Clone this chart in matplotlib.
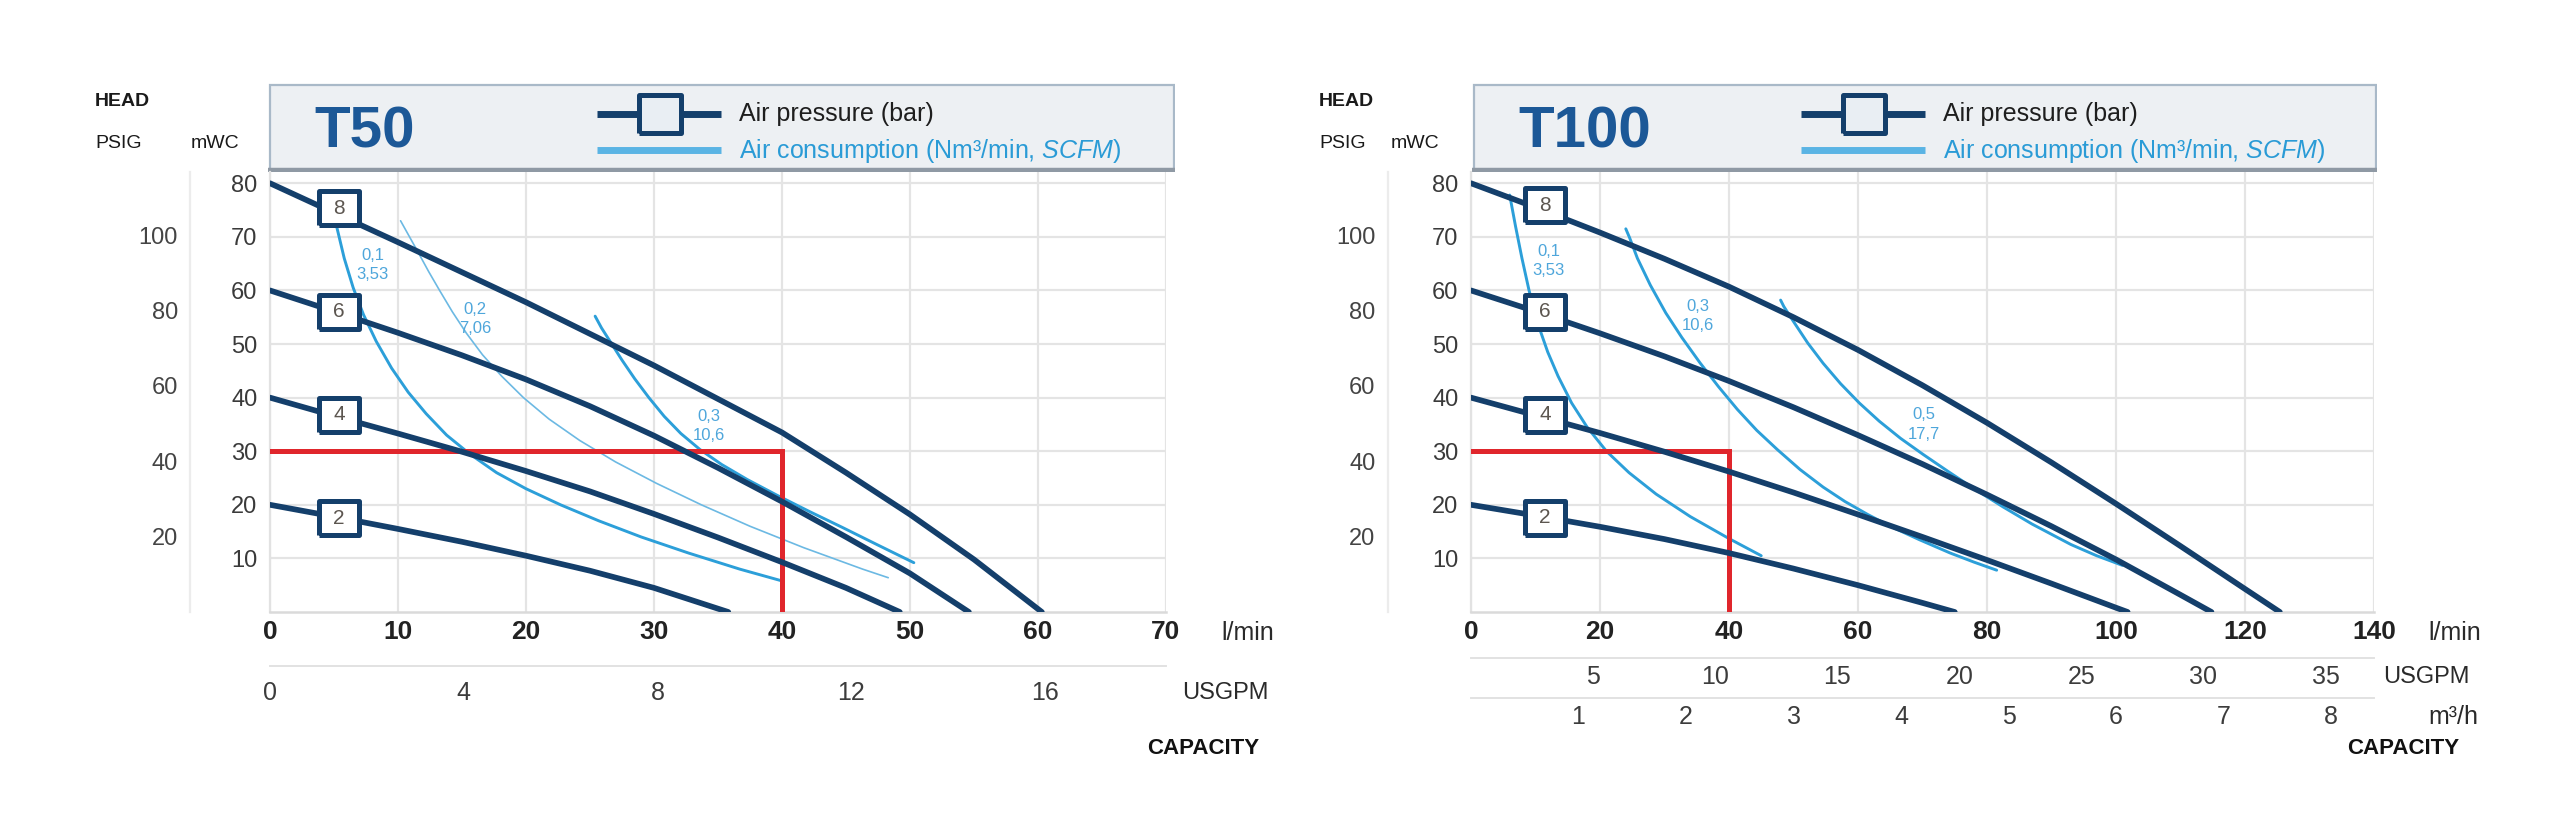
import matplotlib
matplotlib.use("Agg")
import matplotlib.pyplot as plt
from matplotlib.patches import Rectangle

plt.rcParams['font.family'] = ['Liberation Sans', 'DejaVu Sans']
plt.rcParams['mathtext.fontset'] = 'custom'
plt.rcParams['mathtext.rm'] = 'Liberation Sans'
plt.rcParams['mathtext.it'] = 'Liberation Sans:italic'

NAVY = '#143f6b'
AIR = '#2c9fd9'
AIR_THIN = '#6cb9e3'
AIR_TEXT = '#4ea6db'
RED = '#e0262c'
GRID = '#e4e4e4'
W, H = 2560, 835

LPM_PER_GPM = 3.785411784
PSI_PER_M = 1.42233

# ---------------- T50 ----------------
t50_q_8bar = [0, 10, 20, 30, 40, 45, 50, 55, 60.3]
t50_h_8bar = [80, 69, 57.8, 46, 33.5, 26, 18.2, 9.8, 0]
t50_q_6bar = [0, 5, 10, 15, 20, 25, 30, 35, 40, 45, 50, 54.6]
t50_h_6bar = [60, 56.1, 52.1, 47.9, 43.4, 38.4, 32.9, 26.9, 20.6, 14, 7.2, 0]
t50_q_4bar = [0, 5, 10, 15, 20, 25, 30, 35, 40, 45, 49.2]
t50_h_4bar = [40, 36.6, 33.3, 29.9, 26.3, 22.5, 18.3, 13.9, 9.3, 4.5, 0]
t50_q_2bar = [0, 5, 10, 15, 20, 25, 30, 35.8]
t50_h_2bar = [20, 17.8, 15.5, 13.1, 10.5, 7.7, 4.5, 0]

t50_q_air01 = [5.2, 5.8, 6.5, 7.3, 8.3, 9.5, 10.8, 12.2, 13.8, 15.6, 17.7, 20.0, 22.7, 25.7, 29.0, 32.7, 36.7, 40.0]
t50_h_air01 = [72, 66, 60.5, 55.5, 50.5, 45.5, 41, 37, 33, 29.5, 26, 23, 20, 17, 14, 11, 8, 5.8]
t50_q_air02 = [10.2, 10.9, 11.6, 12.4, 13.25, 14.25, 15.35, 16.6, 18.1, 19.8, 21.8, 24.2, 27.0, 30.2, 33.7, 37.5, 41.7, 46.3, 48.3]
t50_h_air02 = [73, 70, 67, 63.5, 60, 56, 52, 48, 44, 40, 36, 32, 28, 24, 20, 16, 12, 8, 6.4]
t50_q_air03 = [25.4, 25.9, 26.7, 27.5, 28.5, 29.6, 30.8, 32.1, 33.6, 35.3, 37.3, 39.6, 42.1, 44.7, 47.4, 50.3]
t50_h_air03 = [55.2, 53, 50, 47, 43.5, 40, 36.5, 33.3, 30.3, 27.5, 24.7, 21.8, 18.8, 15.8, 12.6, 9.2]

t50_air_labels = ['0,1\n3,53', '0,2\n7,06', '0,3\n10,6']
t50_air_label_q = [8.0, 16.0, 34.3]
t50_air_label_h = [64.8, 54.7, 34.7]

t50_bars = ['8', '6', '4', '2']
t50_box_q = [5.4, 5.4, 5.4, 5.4]
t50_box_h = [75.3, 56.0, 36.8, 17.5]

t50_xticks = [0, 10, 20, 30, 40, 50, 60, 70]
t50_gpm_ticks = [0, 4, 8, 12, 16]

# ---------------- T100 ----------------
t100_q_8bar = [0, 10, 20, 30, 40, 50, 60, 70, 80, 90, 100, 110, 120, 125.4]
t100_h_8bar = [80, 75.5, 70.8, 65.9, 60.7, 55.0, 48.9, 42.3, 35.3, 27.9, 20.2, 12.3, 4.3, 0]
t100_q_6bar = [0, 10, 20, 30, 40, 50, 60, 70, 80, 90, 100, 110, 114.8]
t100_h_6bar = [60, 56.1, 52.0, 47.7, 43.1, 38.2, 33, 27.6, 21.9, 16, 9.8, 3.2, 0]
t100_q_4bar = [0, 10, 20, 30, 40, 50, 60, 70, 80, 90, 100, 101.8]
t100_h_4bar = [40, 36.7, 33.4, 29.9, 26.2, 22.3, 18.2, 14.0, 9.7, 5.3, 0.8, 0]
t100_q_2bar = [0, 10, 20, 30, 40, 50, 60, 70, 75]
t100_h_2bar = [20, 18, 15.9, 13.6, 11, 8.1, 5, 1.7, 0]

t100_q_air01 = [6.0, 6.9, 7.9, 9.0, 10.3, 11.9, 13.5, 15.6, 18, 21, 24.5, 28.7, 34, 40, 45]
t100_h_air01 = [77.8, 72, 66, 60, 54, 48.5, 44, 39, 34.5, 30, 26, 22, 17.8, 13.7, 10.5]
t100_q_air03 = [24.0, 24.6, 25.8, 27.8, 30.2, 32.7, 35.5, 38.4, 41.3, 44.3, 47.5, 51, 54.6, 58, 61.5, 65, 69.5, 74.3, 78, 81.5]
t100_h_air03 = [71.5, 69.8, 66, 61, 55.8, 51.2, 46.5, 42, 37.8, 33.9, 30.3, 26.6, 23.3, 20.6, 18.2, 16, 13.5, 11, 9.3, 7.8]
t100_q_air05 = [48.0, 48.5, 50, 52.2, 54.6, 57.3, 60.2, 63.3, 66.6, 70.1, 74, 78, 82.5, 87, 93, 97, 101]
t100_h_air05 = [58.2, 57, 54.2, 50.2, 46.4, 42.6, 39, 35.6, 32.4, 29.4, 26.2, 23, 19.6, 16.4, 12.6, 10.5, 8.7]

t100_air_labels = ['0,1\n3,53', '0,3\n10,6', '0,5\n17,7']
t100_air_label_q = [12.0, 35.2, 70.2]
t100_air_label_h = [65.5, 55.2, 35.0]

t100_bars = ['8', '6', '4', '2']
t100_box_q = [11.5, 11.5, 11.5, 11.5]
t100_box_h = [75.9, 56.0, 36.8, 17.6]

t100_xticks = [0, 20, 40, 60, 80, 100, 120, 140]
t100_gpm_ticks = [5, 10, 15, 20, 25, 30, 35]
t100_m3h_ticks = [1, 2, 3, 4, 5, 6, 7, 8]

duty_q = 40
duty_h = 30

BOX_MARKER = [(-1.2, -1), (1.2, -1), (1.2, 1), (-1.2, 1), (-1.2, -1)]
LEG_MARKER = [(-1.1, -1), (1.1, -1), (1.1, 1), (-1.1, 1), (-1.1, -1)]

fig = plt.figure(figsize=(25.6, 8.35), dpi=100)


def fx(px):
    return px / W


def fy(py):
    return 1 - py / H


def header(x0, x1, title):
    bw = x1 - x0
    bh = 89
    hx = fig.add_axes([fx(x0), fy(172), bw / W, bh / H])
    hx.set_xlim(0, bw)
    hx.set_ylim(bh, 0)
    hx.axis('off')
    hx.add_patch(Rectangle((1.5, 1.5), bw - 3, bh - 3, facecolor='#edf0f3',
                           edgecolor='#a9b9c8', lw=1.6))
    hx.plot([1.5, bw - 1.5], [bh - 2.5, bh - 2.5], color='#8f99a4', lw=3.2)
    hx.text(46, 49, title, fontsize=42, fontweight='bold', color='#1c5897',
            ha='left', va='center')
    hx.plot([329, 453], [31, 31], color=NAVY, lw=5, solid_capstyle='butt')
    hx.plot([392], [31], marker=LEG_MARKER, ms=30, mfc='#e9eef3', mec=NAVY, mew=3.6)
    hx.plot([329, 453], [67, 67], color='#5ab4e4', lw=5, solid_capstyle='butt')
    hx.text(471, 31, 'Air pressure (bar)', fontsize=18, color='#1e1e1e',
            ha='left', va='center')
    hx.text(471, 68, r'Air consumption (Nm³/min, $\mathit{SCFM}$)', fontsize=18,
            color='#2a9bd6', ha='left', va='center')


def chart(x0, x1, xmax, xticks, pressure, air, labels, boxes, gpm_ticks, m3h_ticks,
          gpm_loc, gpm_pad, psig_spine, head_x, mwc_x, lmin_x, gpm_x, m3h_x, cap_x):
    ax = fig.add_axes([fx(x0), fy(612), (x1 - x0) / W, 440 / H])
    ax.set_xlim(0, xmax)
    ax.set_ylim(0, 82.1)
    ax.set_xticks(xticks)
    ax.set_yticks(range(10, 90, 10))
    ax.grid(True, color=GRID, lw=1.6)
    ax.set_axisbelow(True)
    for s in ['top', 'right']:
        ax.spines[s].set_visible(False)
    ax.spines['left'].set_color('#e2e2e2')
    ax.spines['bottom'].set_color('#dadada')
    ax.spines['left'].set_linewidth(1.6)
    ax.spines['bottom'].set_linewidth(1.8)
    ax.tick_params(axis='both', length=0)
    ax.tick_params(axis='x', pad=6, labelsize=19, labelcolor='#222222')
    for t in ax.get_xticklabels():
        t.set_fontweight('bold')
    ax.tick_params(axis='y', pad=9, labelsize=17, labelcolor='#3a3a3a')

    # PSIG scale
    sy = ax.secondary_yaxis(psig_spine, functions=(lambda h: h * PSI_PER_M,
                                                   lambda p: p / PSI_PER_M))
    sy.set_yticks([20, 40, 60, 80, 100])
    sy.tick_params(length=0, pad=9, labelsize=17, labelcolor='#444444')
    for s in sy.spines.values():
        s.set_color('#ececec')
        s.set_linewidth(1.6)

    # USGPM scale
    sx = ax.secondary_xaxis(gpm_loc, functions=(lambda q: q / LPM_PER_GPM,
                                                lambda g: g * LPM_PER_GPM))
    sx.set_xticks(gpm_ticks)
    sx.tick_params(length=0, pad=gpm_pad, labelsize=18, labelcolor='#3c3c3c')
    for s in sx.spines.values():
        s.set_color('#e2e2e2')
        s.set_linewidth(1.4)

    if m3h_ticks:
        sm = ax.secondary_xaxis(-0.195, functions=(lambda q: q * 0.06, lambda m: m / 0.06))
        sm.set_xticks(m3h_ticks)
        sm.tick_params(length=0, pad=gpm_pad, labelsize=18, labelcolor='#3c3c3c')
        for s in sm.spines.values():
            s.set_color('#e2e2e2')
            s.set_linewidth(1.4)
        fig.text(fx(m3h_x), fy(717), 'm³/h', fontsize=18, color='#2a2a2a',
                 ha='left', va='center')

    for q, h, lw, col in air:
        ax.plot(q, h, color=col, lw=lw, zorder=2, solid_capstyle='round',
                solid_joinstyle='round')
    ax.plot([0, duty_q, duty_q], [duty_h, duty_h, 0], color=RED, lw=3.6, zorder=2.6,
            solid_joinstyle='miter')
    for q, h in pressure:
        ax.plot(q, h, color=NAVY, lw=4.1, zorder=3, solid_capstyle='round',
                solid_joinstyle='round')
    for txt, q, h in zip(*labels):
        ax.text(q, h, txt, fontsize=12, color=AIR_TEXT, ha='center', va='center',
                linespacing=1.35, zorder=4)
    bars, bq, bh = boxes
    ax.plot(bq, bh, ls='none', marker=BOX_MARKER, ms=29, mfc='white', mec=NAVY,
            mew=3.6, zorder=5)
    for b, q, h in zip(bars, bq, bh):
        ax.text(q, h, b, fontsize=15, color='#5c5650', ha='center', va='center', zorder=6)

    fig.text(fx(head_x), fy(101), 'HEAD', fontsize=14, fontweight='bold',
             color='#1a1a1a', ha='left', va='center')
    fig.text(fx(head_x), fy(144), 'PSIG', fontsize=14, color='#1a1a1a',
             ha='left', va='center')
    fig.text(fx(mwc_x), fy(144), 'mWC', fontsize=14, color='#1a1a1a',
             ha='left', va='center')
    fig.text(fx(lmin_x), fy(633), 'l/min', fontsize=18, color='#2a2a2a',
             ha='left', va='center')
    fig.text(fx(gpm_x[0]), fy(gpm_x[1]), 'USGPM', fontsize=17, color='#2a2a2a',
             ha='left', va='center')
    fig.text(fx(cap_x), fy(749), 'CAPACITY', fontsize=16, fontweight='bold',
             color='#111111', ha='center', va='center')
    return ax


header(268, 1175, 'T50')
chart(270, 1166, 70, t50_xticks,
      [(t50_q_8bar, t50_h_8bar), (t50_q_6bar, t50_h_6bar),
       (t50_q_4bar, t50_h_4bar), (t50_q_2bar, t50_h_2bar)],
      [(t50_q_air01, t50_h_air01, 2.1, AIR), (t50_q_air02, t50_h_air02, 1.2, AIR_THIN),
       (t50_q_air03, t50_h_air03, 2.1, AIR)],
      (t50_air_labels, t50_air_label_q, t50_air_label_h),
      (t50_bars, t50_box_q, t50_box_h),
      t50_gpm_ticks, None, -0.1227, 11, -0.089,
      95, 191, 1221, (1182, 693), None, 1203)

header(1472, 2377, 'T100')
chart(1471, 2374, 140, t100_xticks,
      [(t100_q_8bar, t100_h_8bar), (t100_q_6bar, t100_h_6bar),
       (t100_q_4bar, t100_h_4bar), (t100_q_2bar, t100_h_2bar)],
      [(t100_q_air01, t100_h_air01, 2.1, AIR), (t100_q_air03, t100_h_air03, 2.1, AIR),
       (t100_q_air05, t100_h_air05, 2.1, AIR)],
      (t100_air_labels, t100_air_label_q, t100_air_label_h),
      (t100_bars, t100_box_q, t100_box_h),
      t100_gpm_ticks, t100_m3h_ticks, -0.1045, 5, -0.092,
      1319, 1391, 2428, (2383, 677), 2428, 2403)

fig.savefig('out.png', dpi=100, facecolor='white')
